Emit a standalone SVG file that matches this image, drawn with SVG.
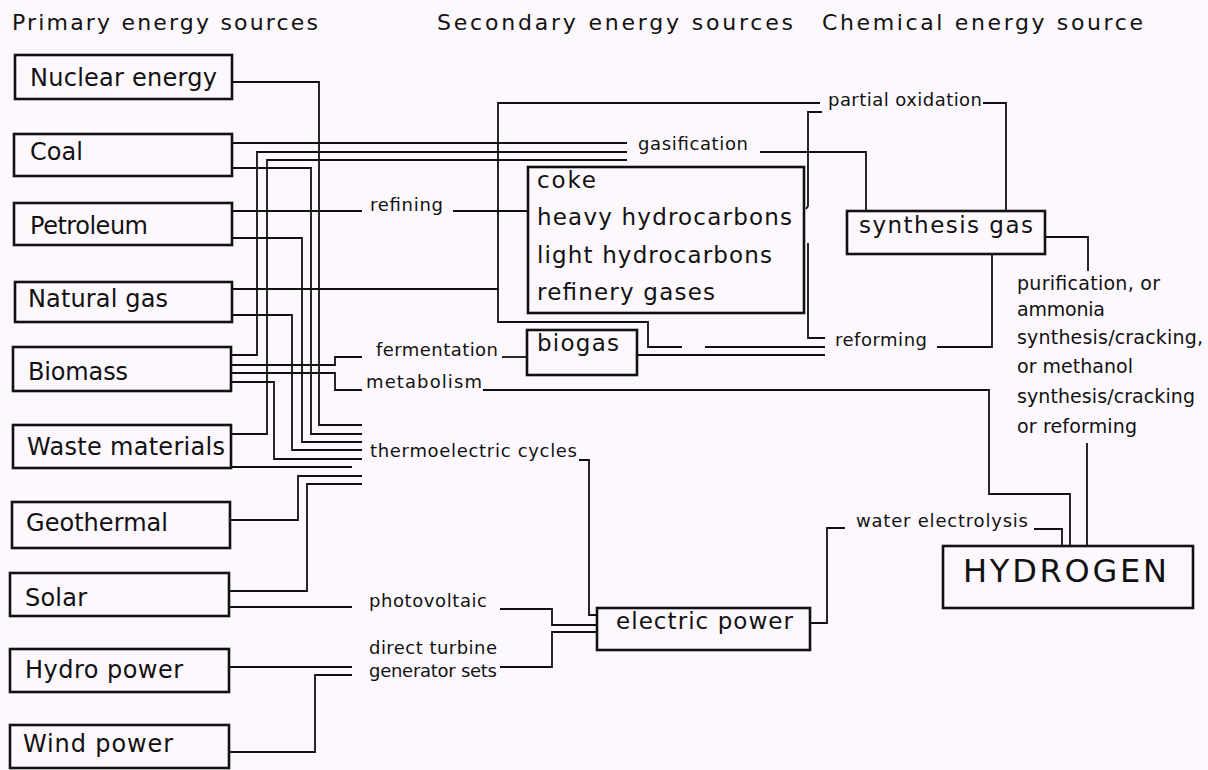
<svg xmlns="http://www.w3.org/2000/svg" width="1208" height="770" viewBox="0 0 1208 770">
<style>
.bg{fill:#fdf8fd}
.box{fill:none;stroke:#111;stroke-width:2.6}
.ln{fill:none;stroke:#111;stroke-width:1.8;stroke-linejoin:miter}
text{font-family:"DejaVu Sans","Liberation Sans",sans-serif;fill:#111}
.hd{font-size:22px}
.nd{font-size:24px}
.md{font-size:23px}
.lb{font-size:18px}
.rt{font-size:19px}
.big{font-size:32px}
</style>
<rect class="bg" x="0" y="0" width="1208" height="770"/>
<g id="headers">
<text class="hd" x="12" y="30" textLength="306">Primary energy sources</text>
<text class="hd" x="437" y="30" textLength="356">Secondary energy sources</text>
<text class="hd" x="822" y="30" textLength="321">Chemical energy source</text>
</g>
<g id="connectors">
<polyline class="ln" points="232,82 319,82 319,425 362,425"/>
<polyline class="ln" points="232,143 627,143"/>
<polyline class="ln" points="232,168 311,168 311,434 362,434"/>
<polyline class="ln" points="232,211 362,211"/>
<polyline class="ln" points="232,238 302,238 302,442 362,442"/>
<polyline class="ln" points="453,211 528,211"/>
<polyline class="ln" points="232,289 498,289"/>
<polyline class="ln" points="232,315 292,315 292,450 362,450"/>
<polyline class="ln" points="231,355 257,355 257,152 627,152"/>
<polyline class="ln" points="231,365 335,365 335,357 362,357"/>
<polyline class="ln" points="231,373 335,373 335,390 362,390"/>
<polyline class="ln" points="231,382 274,382 274,459 362,459"/>
<polyline class="ln" points="231,434 267,434 267,160 627,160"/>
<polyline class="ln" points="231,467 352,467"/>
<polyline class="ln" points="230,520 298,520 298,476 362,476"/>
<polyline class="ln" points="229,591 307,591 307,484 362,484"/>
<polyline class="ln" points="229,607 352,607"/>
<polyline class="ln" points="500,609 552,609 552,625 597,625"/>
<polyline class="ln" points="229,667 352,667"/>
<polyline class="ln" points="229,752 315,752 315,675 352,675"/>
<polyline class="ln" points="500,667 552,667 552,632 597,632"/>
<polyline class="ln" points="579,460 589,460 589,615 597,615"/>
<polyline class="ln" points="820,103 498,103 498,322 648,322 648,347 682,347"/>
<polyline class="ln" points="705,347 825,347"/>
<polyline class="ln" points="502,357 527,357"/>
<polyline class="ln" points="637,355 825,355"/>
<polyline class="ln" points="806,209 808,206 808,112 822,112"/>
<polyline class="ln" points="808,243 808,338 825,338"/>
<polyline class="ln" points="760,152 866,152 866,211"/>
<polyline class="ln" points="983,103 1006,103 1006,211"/>
<polyline class="ln" points="937,347 992,347 992,254"/>
<polyline class="ln" points="1045,237 1088,237 1088,271"/>
<polyline class="ln" points="1087,443 1087,546"/>
<polyline class="ln" points="483,390 989,390 989,494 1070,494 1070,546"/>
<polyline class="ln" points="810,623 827,623 827,528 845,528"/>
<polyline class="ln" points="1034,529 1062,529 1062,546"/>
</g>
<g id="labels">
<text class="lb" x="828" y="106" textLength="154">partial oxidation</text>
<text class="lb" x="638" y="150" textLength="110">gasification</text>
<text class="lb" x="370" y="211" textLength="73">refining</text>
<text class="lb" x="376" y="356" textLength="122">fermentation</text>
<text class="lb" x="366" y="388" textLength="116">metabolism</text>
<text class="lb" x="370" y="457" textLength="207">thermoelectric cycles</text>
<text class="lb" x="369" y="607" textLength="118">photovoltaic</text>
<text class="lb" x="369" y="654" textLength="128">direct turbine</text>
<text class="lb" x="369" y="677" textLength="128">generator sets</text>
<text class="lb" x="856" y="527" textLength="172">water electrolysis</text>
<text class="lb" x="835" y="346" textLength="92">reforming</text>
<text class="rt" x="1017" y="290" textLength="143">purification, or</text>
<text class="rt" x="1017" y="316" textLength="88">ammonia</text>
<text class="rt" x="1017" y="344" textLength="186">synthesis/cracking,</text>
<text class="rt" x="1017" y="373" textLength="116">or methanol</text>
<text class="rt" x="1017" y="403" textLength="178">synthesis/cracking</text>
<text class="rt" x="1017" y="433" textLength="120">or reforming</text>
</g>
<g id="nuclear"><rect class="box" x="15" y="55" width="217" height="44"/><text class="nd" x="30" y="86" textLength="187">Nuclear energy</text></g>
<g id="coal"><rect class="box" x="14" y="134" width="218" height="42"/><text class="nd" x="30" y="160" textLength="53">Coal</text></g>
<g id="petroleum"><rect class="box" x="14" y="203" width="218" height="42"/><text class="nd" x="30" y="234" textLength="118">Petroleum</text></g>
<g id="natural-gas"><rect class="box" x="15" y="282" width="217" height="40"/><text class="nd" x="28" y="307" textLength="140">Natural gas</text></g>
<g id="biomass"><rect class="box" x="13" y="347" width="218" height="44"/><text class="nd" x="28" y="380" textLength="100">Biomass</text></g>
<g id="waste"><rect class="box" x="13" y="425" width="218" height="43"/><text class="nd" x="27" y="455" textLength="198">Waste materials</text></g>
<g id="geothermal"><rect class="box" x="12" y="502" width="218" height="46"/><text class="nd" x="26" y="531" textLength="142">Geothermal</text></g>
<g id="solar"><rect class="box" x="10" y="573" width="219" height="43"/><text class="nd" x="25" y="606" textLength="62">Solar</text></g>
<g id="hydro"><rect class="box" x="10" y="649" width="219" height="43"/><text class="nd" x="25" y="678" textLength="158">Hydro power</text></g>
<g id="wind"><rect class="box" x="10" y="725" width="219" height="43"/><text class="nd" x="23" y="752" textLength="150">Wind power</text></g>
<g id="refinery-products"><rect class="box" x="528" y="167" width="276" height="146"/>
<text class="md" x="537" y="188" textLength="59">coke</text>
<text class="md" x="537" y="225" textLength="255">heavy hydrocarbons</text>
<text class="md" x="537" y="263" textLength="235">light hydrocarbons</text>
<text class="md" x="537" y="300" textLength="178">refinery gases</text></g>
<g id="biogas"><rect class="box" x="527" y="330" width="110" height="45"/><text class="md" x="537" y="351" textLength="82">biogas</text></g>
<g id="synthesis-gas"><rect class="box" x="847" y="211" width="198" height="43"/><text class="md" x="859" y="233" textLength="174">synthesis gas</text></g>
<g id="electric-power"><rect class="box" x="597" y="608" width="213" height="42"/><text class="md" x="616" y="629" textLength="177">electric power</text></g>
<g id="hydrogen"><rect class="box" x="943" y="546" width="250" height="62"/><text class="big" x="963" y="582" textLength="204">HYDROGEN</text></g>
</svg>
